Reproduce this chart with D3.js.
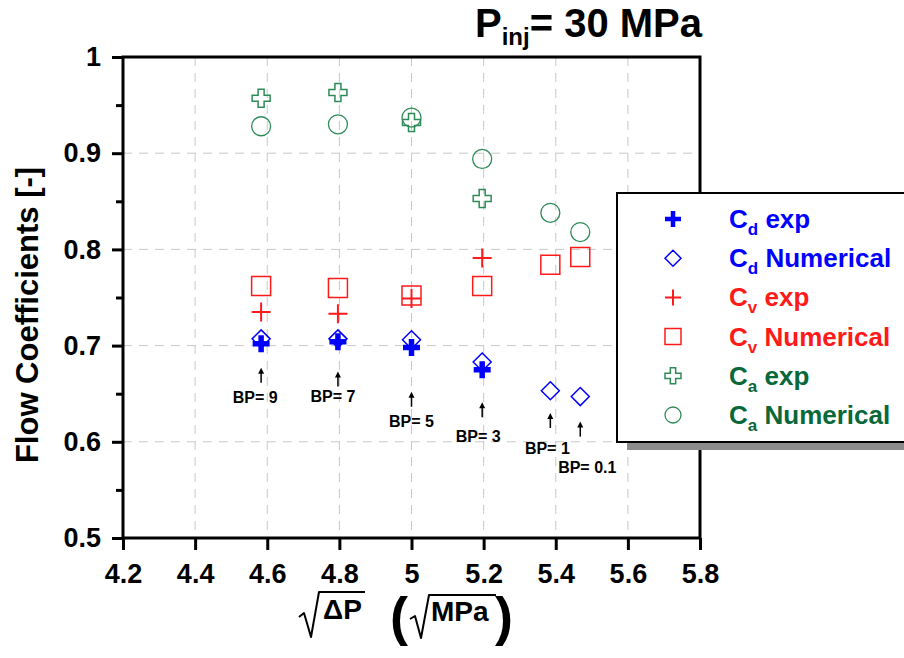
<!DOCTYPE html>
<html>
<head>
<meta charset="utf-8">
<script src="https://cdn.jsdelivr.net/npm/d3@7"></script>
<style>
  body { margin: 0; background: #fff; }
  text { font-family: "Liberation Sans", Arial, Helvetica, sans-serif; font-weight: bold; }
</style>
</head>
<body>
<svg id="chart" width="904" height="658"></svg>
<script>
// sqrt(ΔP) in sqrt(MPa) for each back pressure, Pinj = 30 MPa
const sqrtDeltaP = [4.583, 4.796, 5.0, 5.196, 5.385, 5.468];
const bpLabels = ["BP= 9", "BP= 7", "BP= 5", "BP= 3", "BP= 1", "BP= 0.1"];

// flow coefficients
const cdExp = [0.702, 0.704, 0.698, 0.675];
const cdNum = [0.707, 0.707, 0.706, 0.683, 0.653, 0.647];
const cvExp = [0.735, 0.733, 0.749, 0.791];
const cvNum = [0.762, 0.760, 0.752, 0.762, 0.784, 0.792];
const caExp = [0.957, 0.963, 0.932, 0.853];
const caNum = [0.928, 0.930, 0.937, 0.894, 0.838, 0.818];

const xTicks = [4.2, 4.4, 4.6, 4.8, 5.0, 5.2, 5.4, 5.6, 5.8];
const yTicks = [0.5, 0.6, 0.7, 0.8, 0.9, 1.0];
const yMinorTicks = [0.55, 0.65, 0.75, 0.85, 0.95];

// annotation placement (value units on the y axis)
const arrowTop = [0.677, 0.673, 0.652, 0.641, 0.630, 0.621];
const labelBase = [0.640, 0.641, 0.615, 0.600, 0.587, 0.568];
const labelShift = [-6, -5, 0, -4, -3, 7];

const BLUE = "#0000ff", RED = "#ff1a1a", GREEN_M = "#2e8b57", GREEN_T = "#08683a";

const svg = d3.select("#chart");
const L = 123, R = 700, T = 57, B = 538;
const x = d3.scaleLinear().domain([4.2, 5.8]).range([L, R]);
const y = d3.scaleLinear().domain([0.5, 1.0]).range([B, T]);

// grid
const grid = svg.append("g");
grid.selectAll(".gx").data(xTicks.slice(1, -1)).join("line")
  .attr("x1", d => x(d)).attr("x2", d => x(d)).attr("y1", T).attr("y2", B)
  .attr("stroke", "#c8c8c8").attr("stroke-width", 1).attr("stroke-dasharray", "9,7");
grid.selectAll(".gy").data(yTicks.slice(1, -1)).join("line")
  .attr("x1", L).attr("x2", R).attr("y1", d => y(d)).attr("y2", d => y(d))
  .attr("stroke", "#c8c8c8").attr("stroke-width", 1).attr("stroke-dasharray", "9,7");

// axes
const fmt = d => String(+d.toFixed(1));
const xAxis = svg.append("g").attr("transform", `translate(0,${B})`)
  .call(d3.axisBottom(x).tickValues(xTicks).tickSize(12).tickSizeOuter(0).tickPadding(14).tickFormat(fmt));
const yAxis = svg.append("g").attr("transform", `translate(${L},0)`)
  .call(d3.axisLeft(y).tickValues(yTicks).tickSize(11).tickSizeOuter(0).tickPadding(11).tickFormat(fmt));
svg.append("g").attr("transform", `translate(${L},0)`)
  .call(d3.axisLeft(y).tickValues(yMinorTicks).tickSize(7).tickSizeOuter(0).tickFormat(""))
  .call(g => g.select(".domain").remove())
  .selectAll("line").attr("stroke", "#000").attr("stroke-width", 3);
[xAxis, yAxis].forEach(g => {
  g.select(".domain").remove();
  g.selectAll(".tick line").attr("stroke", "#000").attr("stroke-width", 3);
  g.selectAll(".tick text").attr("font-size", 27).attr("fill", "#000")
    .attr("font-family", "'Liberation Sans', Arial, sans-serif").attr("font-weight", "bold");
});
svg.append("rect").attr("x", L).attr("y", T).attr("width", R - L).attr("height", B - T)
  .attr("fill", "none").attr("stroke", "#000").attr("stroke-width", 3);

// marker shapes
function marker(type, s) {
  const h = s / 2;
  switch (type) {
    case "plus": return `M${-h},0H${h}M0,${-h}V${h}`;
    case "diamond": return `M0,${-h}L${h},0L0,${h}L${-h},0Z`;
    case "square": return `M${-h},${-h}H${h}V${h}H${-h}Z`;
    case "circle": return `M${h},0A${h},${h} 0 1,1 ${-h},0A${h},${h} 0 1,1 ${h},0Z`;
    case "hollowplus": {
      const a = s / 6;
      return `M${-a},${-h}H${a}V${-a}H${h}V${a}H${a}V${h}H${-a}V${a}H${-h}V${-a}H${-a}Z`;
    }
  }
}

const series = [
  { name: "d", label: " exp", values: cdExp, type: "plus", size: 17, sw: 5.5, color: BLUE, text: BLUE },
  { name: "d", label: " Numerical", values: cdNum, type: "diamond", size: 18, sw: 1.5, color: BLUE, text: BLUE },
  { name: "v", label: " exp", values: cvExp, type: "plus", size: 19, sw: 2, color: RED, text: RED },
  { name: "v", label: " Numerical", values: cvNum, type: "square", size: 19, sw: 1.5, color: RED, text: RED },
  { name: "a", label: " exp", values: caExp, type: "hollowplus", size: 18, sw: 1.5, color: GREEN_M, text: GREEN_T },
  { name: "a", label: " Numerical", values: caNum, type: "circle", size: 19, sw: 1.3, color: GREEN_M, text: GREEN_T }
];

// draw order: green, red, blue on top
const drawOrder = [5, 4, 3, 2, 1, 0];
drawOrder.forEach(i => {
  const s = series[i];
  svg.append("g").selectAll("path").data(s.values).join("path")
    .attr("transform", (v, j) => `translate(${x(sqrtDeltaP[j])},${y(v)})`)
    .attr("d", marker(s.type, s.size))
    .attr("fill", "none").attr("stroke", s.color).attr("stroke-width", s.sw);
});

// back-pressure annotations
const ann = svg.append("g");
bpLabels.forEach((lab, i) => {
  const ax = x(sqrtDeltaP[i]);
  const ty = y(arrowTop[i]);
  ann.append("line").attr("x1", ax).attr("x2", ax).attr("y1", ty + 3).attr("y2", ty + 15)
    .attr("stroke", "#000").attr("stroke-width", 1.5);
  ann.append("path").attr("d", `M${ax},${ty}L${ax - 3},${ty + 6}L${ax + 3},${ty + 6}Z`).attr("fill", "#000");
  ann.append("text").attr("x", ax + labelShift[i]).attr("y", y(labelBase[i]))
    .attr("text-anchor", "middle").attr("font-size", 16).attr("fill", "#000").text(lab);
});

// legend
const lg = svg.append("g");
lg.append("rect").attr("x", 627).attr("y", 201).attr("width", 300).attr("height", 249).attr("fill", "#8c8c8c");
lg.append("rect").attr("x", 617).attr("y", 193).attr("width", 300).attr("height", 249)
  .attr("fill", "#fff").attr("stroke", "#000").attr("stroke-width", 2);
series.forEach((s, i) => {
  const cy = 219 + i * 39.2;
  lg.append("path").attr("transform", `translate(673,${cy})`)
    .attr("d", marker(s.type, 16))
    .attr("fill", "none").attr("stroke", s.color).attr("stroke-width", s.sw > 5 ? 4.5 : s.sw);
  const t = lg.append("text").attr("x", 729).attr("y", cy + 9).attr("font-size", 26).attr("fill", s.text);
  t.append("tspan").text("C");
  t.append("tspan").attr("font-size", 17).attr("dy", 7).text(s.name);
  t.append("tspan").attr("dy", -7).text(s.label);
});

// title
const title = svg.append("text").attr("x", 475).attr("y", 37).attr("font-size", 40).attr("fill", "#000");
title.append("tspan").text("P");
title.append("tspan").attr("font-size", 24).attr("dy", 8).text("inj");
title.append("tspan").attr("dy", -8).text("= 30 MPa");

// y axis title
svg.append("text").attr("transform", "translate(38,315) rotate(-90)")
  .attr("text-anchor", "middle").attr("font-size", 31).attr("fill", "#000").text("Flow Coefficients [-]");

// x axis title: sqrt(ΔP) (sqrt(MPa))
const xt = svg.append("g");
xt.append("path").attr("d", "M299,617L304,613L311,637L319,592H365")
  .attr("fill", "none").attr("stroke", "#000").attr("stroke-width", 2).attr("stroke-linejoin", "round");
xt.append("text").attr("x", 323).attr("y", 619).attr("font-size", 28).attr("fill", "#000").text("ΔP");
xt.append("text").attr("x", 390).attr("y", 635).attr("font-size", 54).attr("fill", "#000").text("(");
xt.append("path").attr("d", "M410,619L415,616L421,638L429,595H496")
  .attr("fill", "none").attr("stroke", "#000").attr("stroke-width", 2).attr("stroke-linejoin", "round");
xt.append("text").attr("x", 431).attr("y", 621).attr("font-size", 28).attr("fill", "#000").text("MPa");
xt.append("text").attr("x", 495).attr("y", 635).attr("font-size", 54).attr("fill", "#000").text(")");
</script>
</body>
</html>
